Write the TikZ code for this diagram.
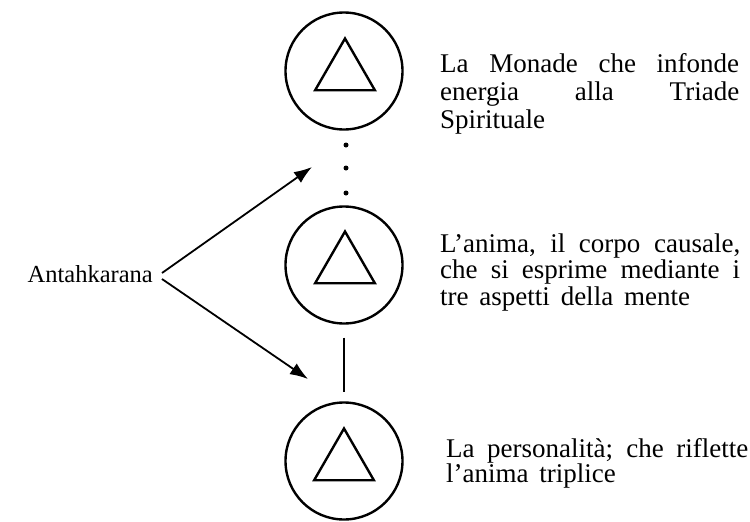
\documentclass[tikz,border=0pt]{standalone}
\usepackage{fontspec}
\setmainfont{Liberation Serif}
\usetikzlibrary{shapes.geometric,arrows.meta,calc}
\tikzset{
  ring/.style={circle,draw,line width=2.4pt,minimum size=117pt,inner sep=0pt},
  tri/.style={regular polygon,regular polygon sides=3,draw,line width=2.4pt,minimum size=69pt,inner sep=0pt},
  dotmark/.style={circle,fill,minimum size=5pt,inner sep=0pt},
  link/.style={line width=1.9pt},
  arr/.style={line width=1.8pt,-{Latex[length=18pt,width=13pt]}},
  desc/.style={anchor=base west,inner sep=0pt}
}
\newcommand{\wsp}{\spaceskip=0.4em plus 2em minus 0.12em\relax}
\begin{document}
\begin{tikzpicture}[x=1pt,y=-1pt]
\useasboundingbox (0,0) rectangle (750,522);
% circles
\node[ring] (c1) at (344,71) {};
\node[ring] (c2) at (344,265) {};
\node[ring] (c3) at (344,461) {};
% triangles
\node[tri] (t1) at (345,73) {};
\node[tri] (t2) at (345,266) {};
\node[tri] (t3) at (344,463) {};
% dots
\node[dotmark] (d1) at (346,145) {};
\node[dotmark] (d2) at (346,168) {};
\node[dotmark] (d3) at (346,193) {};
% vertical link
\draw[link,shorten <=13pt,shorten >=9pt] (c2.south) -- (c3.north);
% label
\node[anchor=base east,inner sep=0pt,font=\fontsize{24.5}{24}\selectfont] (ant) at (153,282) {Antahkarana};
\coordinate (v1) at (162,273);
\coordinate (v2) at (162,279);
\coordinate (e1) at (312,167);
\coordinate (e2) at (308,379);
\draw[arr] (v1) -- (e1);
\draw[arr] (v2) -- (e2);
% descriptions
\node[desc] (txt1) at (440,72) {\parbox[t]{299pt}{\fontsize{27}{28}\selectfont\wsp La Monade che infonde\linebreak energia alla Triade\linebreak Spirituale}};
\node[desc] (txt2) at (440,252) {\parbox[t]{300pt}{\fontsize{27}{26.5}\selectfont\wsp L'anima, il corpo causale,\linebreak che si esprime mediante i\linebreak tre aspetti della mente}};
\node[desc] (txt3) at (446,457) {\parbox[t]{302pt}{\fontsize{27}{25.5}\selectfont\wsp La personalità; che riflette\linebreak l'anima triplice}};
\end{tikzpicture}
\end{document}
